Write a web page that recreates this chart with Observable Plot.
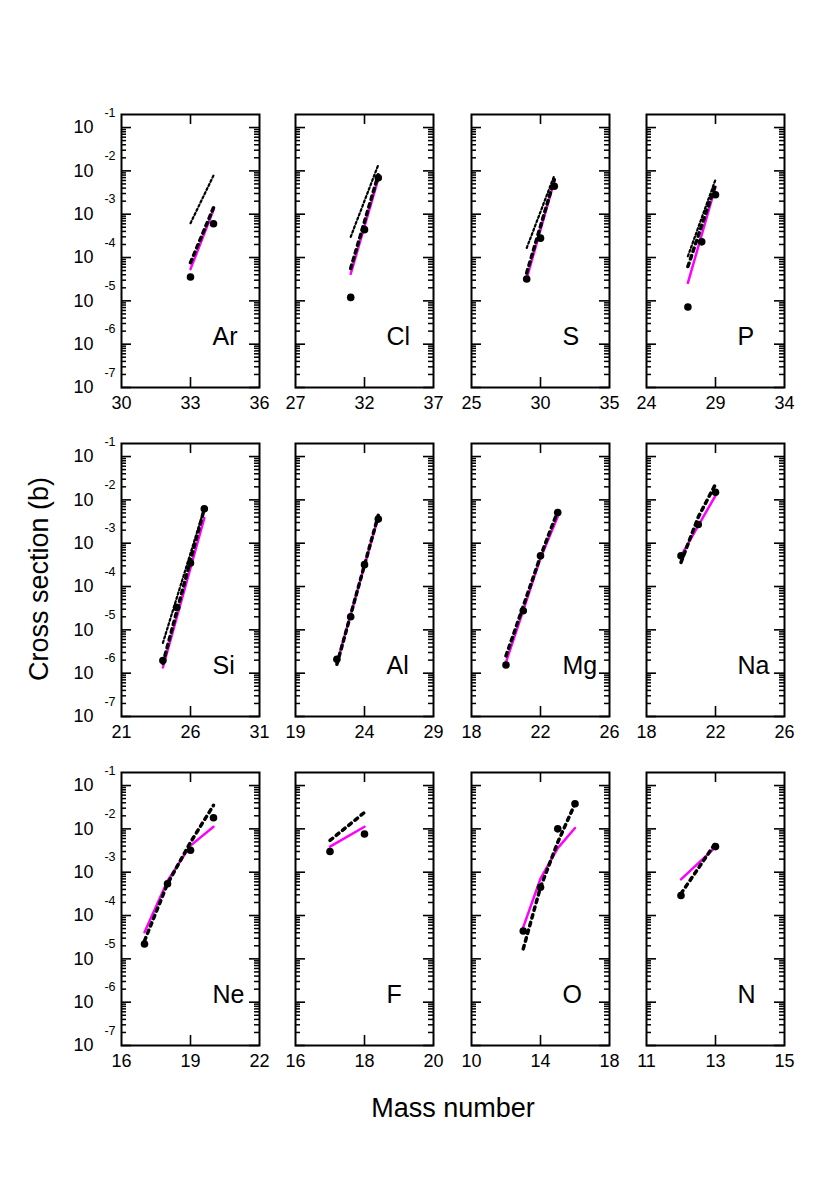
<!DOCTYPE html>
<html><head><meta charset="utf-8">
<script src="https://cdn.jsdelivr.net/npm/d3@7"></script>
<script src="https://cdn.jsdelivr.net/npm/@observablehq/plot@0.6"></script>
<style>
body{margin:0;background:#fff;}
#chart{position:relative;width:830px;height:1177px;font-family:"Liberation Sans",Arial,Helvetica,sans-serif;color:#000;}
.panel{position:absolute;}
.title{position:absolute;font-size:27px;white-space:nowrap;line-height:1;}
</style></head><body><div id="chart"></div>
<script>
// ---- panel definitions ----
const elements = ["Ar","Cl","S","P","Si","Al","Mg","Na","Ne","F","O","N"];
const xMin = [30,27,25,24,21,19,18,18,16,16,10,11];
const xMid = [33,32,30,29,26,24,22,22,19,18,14,13];
const xMax = [36,37,35,34,31,29,26,26,22,20,18,15];
const yMajorExp = [-1,-2,-3,-4,-5,-6,-7];
const yDomain = [1e-7, 0.2];

// ---- measured cross sections (element, mass number, sigma [b]) ----
const measured = [
  ["Ar",33,3.55e-5],["Ar",34,6.0e-4],
  ["Cl",31,1.2e-5],["Cl",32,4.4e-4],["Cl",33,6.9e-3],
  ["S",29,3.2e-5],["S",30,2.8e-4],["S",31,4.4e-3],
  ["P",27,7.2e-6],["P",28,2.3e-4],["P",29,2.8e-3],
  ["Si",24,1.95e-6],["Si",25,3.3e-5],["Si",26,3.5e-4],["Si",27,6.2e-3],
  ["Al",22,2.1e-6],["Al",23,2.0e-5],["Al",24,3.2e-4],["Al",25,3.6e-3],
  ["Mg",20,1.55e-6],["Mg",21,2.75e-5],["Mg",22,5.1e-4],["Mg",23,5.1e-3],
  ["Na",20,5.1e-4],["Na",21,2.7e-3],["Na",22,1.5e-2],
  ["Ne",17,2.2e-5],["Ne",18,5.4e-4],["Ne",19,3.2e-3],["Ne",20,1.8e-2],
  ["F",17,3.0e-3],["F",18,7.6e-3],
  ["O",13,4.4e-5],["O",14,4.5e-4],["O",15,1.0e-2],["O",16,3.8e-2],
  ["N",12,2.9e-4],["N",13,3.9e-3]
];

// ---- calculation (magenta solid) ----
const calcSolid = [
  ["Ar",33,5.4e-5],["Ar",34,1.26e-3],
  ["Cl",31,4.2e-5],["Cl",33,6.5e-3],
  ["S",29,3.3e-5],["S",31,5.75e-3],
  ["P",27,2.6e-5],["P",29,4.3e-3],
  ["Si",24,1.35e-6],["Si",27,3.8e-3],
  ["Al",22,1.7e-6],["Al",25,4.0e-3],
  ["Mg",20,1.8e-6],["Mg",21,2.8e-5],["Mg",22,4.5e-4],["Mg",23,4.1e-3],
  ["Na",20,5.1e-4],["Na",22,1.26e-2],
  ["Ne",17,4.1e-5],["Ne",18,6.3e-4],["Ne",19,4.1e-3],["Ne",20,1.12e-2],
  ["F",17,3.9e-3],["F",18,1.12e-2],
  ["O",13,5.4e-5],["O",14,7.1e-4],["O",15,3.6e-3],["O",16,1.05e-2],
  ["N",12,6.8e-4],["N",13,3.8e-3]
];

// ---- calculation (black dashed) ----
const calcDashed = [
  ["Ar",33,7.6e-5],["Ar",34,1.41e-3],
  ["Cl",31,5.6e-5],["Cl",33,8.1e-3],
  ["S",29,4.4e-5],["S",31,6.3e-3],
  ["P",27,6.2e-5],["P",29,4.8e-3],
  ["Si",24,1.7e-6],["Si",27,6.2e-3],
  ["Al",22,1.6e-6],["Al",25,4.4e-3],
  ["Mg",20,2.5e-6],["Mg",21,3.5e-5],["Mg",22,5.0e-4],["Mg",23,5.5e-3],
  ["Na",20,3.6e-4],["Na",21,4.0e-3],["Na",22,2.3e-2],
  ["Ne",17,2.6e-5],["Ne",18,5.4e-4],["Ne",19,4.9e-3],["Ne",20,3.5e-2],
  ["F",17,5.4e-3],["F",18,2.4e-2],
  ["O",13,1.7e-5],["O",14,4.5e-4],["O",15,4.9e-3],["O",16,3.8e-2],
  ["N",12,3.2e-4],["N",13,4.7e-3]
];

// ---- calculation (black dotted) ----
const calcDotted = [
  ["Ar",33,6.2e-4],["Ar",34,7.8e-3],
  ["Cl",31,3.0e-4],["Cl",33,1.38e-2],
  ["S",29,1.66e-4],["S",31,7.8e-3],
  ["P",27,1.07e-4],["P",29,6.3e-3],
  ["Si",24,5.0e-6],["Si",27,6.3e-3]
];

// ---- layout ----
const W = 138, H = 273;
const colLeft = [121, 295, 471, 646];
const rowTop = [114, 443, 772];

const major = yMajorExp.map(e => Math.pow(10, e));
const minor = [];
for (let e = -7; e <= -2; e++) for (let k = 2; k <= 9; k++) minor.push(k * Math.pow(10, e));

const chart = document.getElementById("chart");

elements.forEach((el, i) => {
  const r = Math.floor(i / 4), c = i % 4;
  const ML = c === 0 ? 70 : 25, MR = 25, MT = 25, MB = 32;
  const pick = arr => arr.filter(d => d[0] === el);
  const marks = [
    Plot.frame({stroke: "black", fill: "none", strokeWidth: 2}),
    Plot.ruleY(major, {y: d => d, stroke: "black", strokeWidth: 1.6, insetRight: W - 10}),
    Plot.ruleY(major, {y: d => d, stroke: "black", strokeWidth: 1.6, insetLeft: W - 10}),
    Plot.ruleY(minor, {y: d => d, stroke: "black", strokeWidth: 1.5, insetRight: W - 5}),
    Plot.ruleY(minor, {y: d => d, stroke: "black", strokeWidth: 1.5, insetLeft: W - 5}),
    Plot.ruleX([xMid[i]], {x: d => d, stroke: "black", strokeWidth: 1.6, insetBottom: H - 10}),
    Plot.ruleX([xMid[i]], {x: d => d, stroke: "black", strokeWidth: 1.6, insetTop: H - 10}),
    Plot.text([xMin[i], xMid[i], xMax[i]], {x: d => d, text: d => String(d), frameAnchor: "bottom", dy: 16, lineAnchor: "middle", fontSize: 18}),
    Plot.text([el], {text: d => d, frameAnchor: "bottom-left", dx: 91, dy: -51, textAnchor: "start", lineAnchor: "middle", fontSize: 25}),
    Plot.line(pick(calcSolid), {x: d => d[1], y: d => d[2], stroke: "#ff00ff", strokeWidth: 2.5}),
    Plot.line(pick(calcDashed), {x: d => d[1], y: d => d[2], stroke: "black", strokeWidth: 3.5, strokeDasharray: "3.5,4.5"}),
    Plot.line(pick(calcDotted), {x: d => d[1], y: d => d[2], stroke: "black", strokeWidth: 2.2, strokeDasharray: "2.2,2.4"}),
    Plot.dot(pick(measured), {x: d => d[1], y: d => d[2], r: 3.8, fill: "black"})
  ];
  if (c === 0) {
    marks.push(
      Plot.text(major, {y: d => d, text: () => "10", frameAnchor: "left", textAnchor: "end", dx: -28, lineAnchor: "middle", fontSize: 18}),
      Plot.text(major, {y: d => d, text: d => String(Math.round(Math.log10(d))), frameAnchor: "left", textAnchor: "end", dx: -6, dy: -15, lineAnchor: "middle", fontSize: 12.5})
    );
  }
  const svg = Plot.plot({
    width: ML + W + MR, height: MT + H + MB,
    marginLeft: ML, marginRight: MR, marginTop: MT, marginBottom: MB,
    style: {overflow: "visible", fontFamily: "'Liberation Sans', Arial, Helvetica, sans-serif"},
    x: {domain: [xMin[i], xMax[i]], axis: null},
    y: {type: "log", domain: yDomain, axis: null},
    marks
  });
  const div = document.createElement("div");
  div.className = "panel";
  div.style.left = (colLeft[c] - ML) + "px";
  div.style.top = (rowTop[r] - MT) + "px";
  div.style.width = (ML + W + MR) + "px";
  div.appendChild(svg);
  chart.appendChild(div);
});

// axis titles
const xt = document.createElement("div");
xt.className = "title";
xt.textContent = "Mass number";
xt.style.left = "453px"; xt.style.top = "1108px";
xt.style.transform = "translate(-50%,-50%)";
chart.appendChild(xt);

const yt = document.createElement("div");
yt.className = "title";
yt.textContent = "Cross section (b)";
yt.style.left = "39px"; yt.style.top = "579px";
yt.style.transform = "translate(-50%,-50%) rotate(-90deg)";
chart.appendChild(yt);
</script></body></html>
